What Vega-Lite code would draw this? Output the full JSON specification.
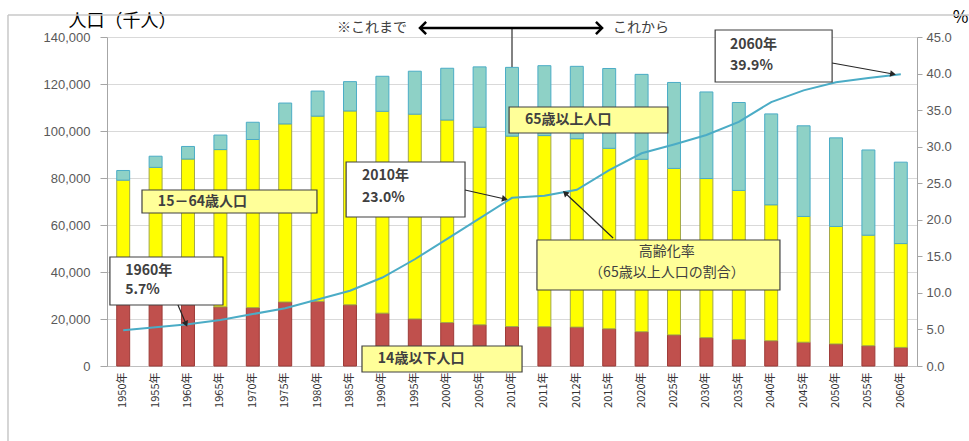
{
  "$schema": "https://vega.github.io/schema/vega-lite/v6.json",
  "width": 810,
  "height": 329,
  "autosize": {"type": "none"},
  "padding": {"left": 107, "top": 37, "right": 52, "bottom": 75},
  "background": "white",
  "config": {
    "font": "Noto Sans CJK JP",
    "view": {"stroke": null}
  },
  "datasets": {
    "pop": [
      {"year": "1950年", "a14": 29428, "a15_64": 49658, "a65": 4109, "rate": 4.9},
      {"year": "1955年", "a14": 29798, "a15_64": 54729, "a65": 4747, "rate": 5.3},
      {"year": "1960年", "a14": 28067, "a15_64": 60002, "a65": 5350, "rate": 5.7},
      {"year": "1965年", "a14": 25166, "a15_64": 66928, "a65": 6181, "rate": 6.3},
      {"year": "1970年", "a14": 24823, "a15_64": 71566, "a65": 7331, "rate": 7.1},
      {"year": "1975年", "a14": 27221, "a15_64": 75807, "a65": 8865, "rate": 7.9},
      {"year": "1980年", "a14": 27507, "a15_64": 78835, "a65": 10647, "rate": 9.1},
      {"year": "1985年", "a14": 26033, "a15_64": 82506, "a65": 12468, "rate": 10.3},
      {"year": "1990年", "a14": 22486, "a15_64": 85904, "a65": 14895, "rate": 12.1},
      {"year": "1995年", "a14": 20014, "a15_64": 87165, "a65": 18261, "rate": 14.6},
      {"year": "2000年", "a14": 18472, "a15_64": 86220, "a65": 22005, "rate": 17.4},
      {"year": "2005年", "a14": 17521, "a15_64": 84092, "a65": 25672, "rate": 20.2},
      {"year": "2010年", "a14": 16803, "a15_64": 81032, "a65": 29246, "rate": 23.0},
      {"year": "2011年", "a14": 16705, "a15_64": 81342, "a65": 29752, "rate": 23.3},
      {"year": "2012年", "a14": 16547, "a15_64": 80175, "a65": 30793, "rate": 24.1},
      {"year": "2015年", "a14": 15827, "a15_64": 76818, "a65": 33952, "rate": 26.8},
      {"year": "2020年", "a14": 14568, "a15_64": 73408, "a65": 36124, "rate": 29.1},
      {"year": "2025年", "a14": 13240, "a15_64": 70845, "a65": 36573, "rate": 30.3},
      {"year": "2030年", "a14": 12039, "a15_64": 67730, "a65": 36849, "rate": 31.6},
      {"year": "2035年", "a14": 11287, "a15_64": 63430, "a65": 37407, "rate": 33.4},
      {"year": "2040年", "a14": 10732, "a15_64": 57866, "a65": 38678, "rate": 36.1},
      {"year": "2045年", "a14": 10116, "a15_64": 53531, "a65": 38564, "rate": 37.7},
      {"year": "2050年", "a14": 9387, "a15_64": 50013, "a65": 37676, "rate": 38.8},
      {"year": "2055年", "a14": 8614, "a15_64": 47063, "a65": 36257, "rate": 39.4},
      {"year": "2060年", "a14": 7912, "a15_64": 44183, "a65": 34642, "rate": 39.9}
    ]
  },
  "layer": [
    {
      "data": {"name": "pop"},
      "layer": [
        {
          "transform": [{"fold": ["a14", "a15_64", "a65"], "as": ["age", "people"]}],
          "mark": {"type": "bar", "strokeWidth": 1},
          "encoding": {
            "x": {
              "field": "year", "type": "ordinal", "sort": null,
              "scale": {"paddingInner": 0.6, "paddingOuter": 0.3},
              "axis": {
                "title": null, "labelAngle": 270, "labelFontSize": 11, "labelColor": "#333333",
                "labelPadding": 6, "ticks": false, "domainColor": "#BFBFBF",
                "labelFont": "Noto Sans CJK JP"
              }
            },
            "y": {
              "field": "people", "type": "quantitative", "stack": "zero",
              "scale": {"domain": [0, 140000], "nice": false},
              "axis": {
                "orient": "left",
                "values": [0, 20000, 40000, 60000, 80000, 100000, 120000, 140000],
                "format": ",.0f", "grid": true, "gridColor": "#D9D9D9",
                "domainColor": "#A6A6A6", "tickColor": "#A6A6A6", "tickSize": 7,
                "labelPadding": 10, "labelFontSize": 13, "labelColor": "#595959",
                "labelFont": "Liberation Sans",
                "title": "人口（千人）", "titleAngle": 0, "titleX": -39, "titleY": -16,
                "titleAlign": "left", "titleBaseline": "middle", "titleFontSize": 18,
                "titleFontWeight": "normal", "titleColor": "#000000"
              }
            },
            "color": {
              "field": "age", "type": "nominal",
              "scale": {"domain": ["a14", "a15_64", "a65"], "range": ["#C0504D", "#FFFF00", "#8ED1C6"]},
              "legend": null
            },
            "stroke": {
              "field": "age", "type": "nominal",
              "scale": {"domain": ["a14", "a15_64", "a65"], "range": ["#9E3B38", "#A3A84A", "#4BACC6"]},
              "legend": null
            },
            "order": {"field": "age", "sort": "ascending"}
          }
        },
        {
          "mark": {"type": "line", "color": "#4BACC6", "strokeWidth": 2},
          "encoding": {
            "x": {"field": "year", "type": "ordinal", "sort": null},
            "y": {
              "field": "rate", "type": "quantitative",
              "scale": {"domain": [0, 45], "nice": false},
              "axis": {
                "orient": "right", "values": [0, 5, 10, 15, 20, 25, 30, 35, 40, 45],
                "format": ".1f", "grid": false, "domainColor": "#A6A6A6", "tickColor": "#A6A6A6",
                "tickSize": 5, "labelPadding": 4, "labelFontSize": 13, "labelColor": "#595959",
                "labelFont": "Liberation Sans",
                "title": "%", "titleAngle": 0, "titleX": 43, "titleY": -20,
                "titleAlign": "center", "titleBaseline": "middle", "titleFontSize": 17,
                "titleFontWeight": "normal", "titleColor": "#000000"
              }
            }
          }
        }
      ],
      "resolve": {"scale": {"y": "independent"}}
    },
    {
      "encoding": {
        "x": {"field": "x", "type": "quantitative", "scale": {"domain": [-0.5, 24.5], "nice": false, "zero": false}, "axis": null},
        "y": {"field": "y", "type": "quantitative", "scale": {"domain": [0, 140000], "nice": false, "zero": false}, "axis": null}
      },
      "layer": [
        {
          "data": {"values": [
            {"x": -3.556, "x2": 26.1, "y": 149355, "y2": 149355},
            {"x": -3.556, "x2": -3.556, "y": 149355, "y2": -31915}
          ]},
          "mark": {"type": "rule", "color": "#C8C8C8", "strokeWidth": 1.5},
          "encoding": {"x2": {"field": "x2"}, "y2": {"field": "y2"}}
        },
        {
          "data": {"values": [
            {"x": 18.27, "x2": 21.88, "y": 142978, "y2": 120851},
            {"x": 6.88, "x2": 10.55, "y": 86809, "y2": 63404},
            {"x": -0.41, "x2": 3.08, "y": 46383, "y2": 25957}
          ]},
          "mark": {"type": "rect", "fill": "#FFFFFF", "stroke": "#404040", "strokeWidth": 1.2},
          "encoding": {"x2": {"field": "x2"}, "y2": {"field": "y2"}}
        },
        {
          "data": {"values": [
            {"x": 11.91, "x2": 16.81, "y": 110213, "y2": 99149},
            {"x": 12.77, "x2": 20.27, "y": 53617, "y2": 32340},
            {"x": 0.58, "x2": 5.98, "y": 74894, "y2": 65106},
            {"x": 7.37, "x2": 12.31, "y": 8511, "y2": -2553}
          ]},
          "mark": {"type": "rect", "fill": "#FFFF99", "stroke": "#404040", "strokeWidth": 1.2},
          "encoding": {"x2": {"field": "x2"}, "y2": {"field": "y2"}}
        },
        {
          "data": {"values": [{"x": 12, "y": 143830, "x2": 12, "y2": 127234}]},
          "mark": {"type": "rule", "color": "#595959", "strokeWidth": 1.5},
          "encoding": {"x2": {"field": "x2"}, "y2": {"field": "y2"}}
        },
        {
          "data": {"values": [{"x": 9.16, "y": 143830, "x2": 14.78, "y2": 143830}]},
          "layer": [
            {
              "mark": {"type": "rule", "color": "#000000", "strokeWidth": 2.5},
              "encoding": {"x2": {"field": "x2"}, "y2": {"field": "y2"}}
            },
            {
              "mark": {"type": "point", "shape": "M-1,-1L0,0L-1,1", "filled": false, "stroke": "#000000", "strokeWidth": 2.5, "size": 150, "angle": 0, "opacity": 1},
              "encoding": {"x": {"field": "x2", "type": "quantitative"}, "y": {"field": "y2", "type": "quantitative"}}
            },
            {
              "mark": {"type": "point", "shape": "M-1,-1L0,0L-1,1", "filled": false, "stroke": "#000000", "strokeWidth": 2.5, "size": 150, "angle": 180, "opacity": 1},
              "encoding": {}
            }
          ]
        },
        {
          "data": {"values": [{"x": 21.88, "y": 128936, "x2": 23.76, "y2": 124255}]},
          "layer": [
            {"mark": {"type": "rule", "color": "#262626", "strokeWidth": 1.2}, "encoding": {"x2": {"field": "x2"}, "y2": {"field": "y2"}}},
            {"mark": {"type": "point", "shape": "triangle-right", "filled": true, "color": "#262626", "size": 45, "angle": 10, "opacity": 1},
             "encoding": {"x": {"field": "x2", "type": "quantitative"}, "y": {"field": "y2", "type": "quantitative"}}}
          ]
        },
        {
          "data": {"values": [{"x": 10.55, "y": 74894, "x2": 11.78, "y2": 71064}]},
          "layer": [
            {"mark": {"type": "rule", "color": "#262626", "strokeWidth": 1.2}, "encoding": {"x2": {"field": "x2"}, "y2": {"field": "y2"}}},
            {"mark": {"type": "point", "shape": "triangle-right", "filled": true, "color": "#262626", "size": 45, "angle": 12, "opacity": 1},
             "encoding": {"x": {"field": "x2", "type": "quantitative"}, "y": {"field": "y2", "type": "quantitative"}}}
          ]
        },
        {
          "data": {"values": [{"x": 15.12, "y": 54468, "x2": 13.64, "y2": 73617}]},
          "layer": [
            {"mark": {"type": "rule", "color": "#262626", "strokeWidth": 1.2}, "encoding": {"x2": {"field": "x2"}, "y2": {"field": "y2"}}},
            {"mark": {"type": "point", "shape": "triangle-right", "filled": true, "color": "#262626", "size": 45, "angle": 223, "opacity": 1},
             "encoding": {"x": {"field": "x2", "type": "quantitative"}, "y": {"field": "y2", "type": "quantitative"}}}
          ]
        },
        {
          "data": {"values": [{"x": 1.69, "y": 25957, "x2": 1.94, "y2": 17872}]},
          "layer": [
            {"mark": {"type": "rule", "color": "#262626", "strokeWidth": 1.2}, "encoding": {"x2": {"field": "x2"}, "y2": {"field": "y2"}}},
            {"mark": {"type": "point", "shape": "triangle-right", "filled": true, "color": "#262626", "size": 45, "angle": 67, "opacity": 1},
             "encoding": {"x": {"field": "x2", "type": "quantitative"}, "y": {"field": "y2", "type": "quantitative"}}}
          ]
        },
        {
          "data": {"values": [
            {"x": 18.73, "y": 136596, "label": "2060年"},
            {"x": 18.73, "y": 127660, "label": "39.9%"},
            {"x": 7.37, "y": 80850, "label": "2010年"},
            {"x": 7.37, "y": 71490, "label": "23.0%"},
            {"x": 0.06, "y": 40425, "label": "1960年"},
            {"x": 0.06, "y": 32340, "label": "5.7%"}
          ]},
          "mark": {"type": "text", "align": "left", "baseline": "middle", "fontSize": 14, "fontWeight": "bold", "color": "#404040"},
          "encoding": {"text": {"field": "label"}}
        },
        {
          "data": {"values": [
            {"x": 12.40, "y": 104681, "label": "65歳以上人口"},
            {"x": 1.07, "y": 69787, "label": "15－64歳人口"},
            {"x": 7.86, "y": 2979, "label": "14歳以下人口"}
          ]},
          "mark": {"type": "text", "align": "left", "baseline": "middle", "fontSize": 14, "fontWeight": "bold", "color": "#404040"},
          "encoding": {"text": {"field": "label"}}
        },
        {
          "data": {"values": [
            {"x": 16.78, "y": 48511, "label": "高齢化率"},
            {"x": 16.78, "y": 39574, "label": "（65歳以上人口の割合）"}
          ]},
          "mark": {"type": "text", "align": "center", "baseline": "middle", "fontSize": 14, "color": "#404040"},
          "encoding": {"text": {"field": "label"}}
        },
        {
          "data": {"values": [{"x": 8.76, "y": 143830, "label": "※これまで"}]},
          "mark": {"type": "text", "align": "right", "baseline": "middle", "fontSize": 14, "color": "#404040"},
          "encoding": {"text": {"field": "label"}}
        },
        {
          "data": {"values": [{"x": 15.12, "y": 143830, "label": "これから"}]},
          "mark": {"type": "text", "align": "left", "baseline": "middle", "fontSize": 14, "color": "#404040"},
          "encoding": {"text": {"field": "label"}}
        }
      ]
    }
  ],
  "resolve": {"scale": {"x": "independent", "y": "independent"}}
}
